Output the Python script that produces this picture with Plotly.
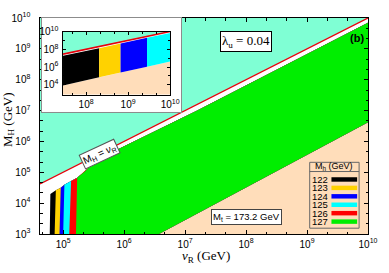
import numpy as np
import plotly.graph_objects as go

# ---------------- data (log10 values) ----------------
mh_values = [122, 123, 124, 125, 126, 127]
mh_colors = ["#000000", "#FFD200", "#0000FF", "#00FFFF", "#FF0000", "#00EE00"]
# left edge of each allowed M_h region: log10(vR) at M_H = 1e3 and at its top corner
band_lv_bottom = [4.78, 4.86, 4.94, 5.00, 5.10, 5.21]
band_lv_top = [4.79, 4.88, 4.96, 5.02, 5.13, 5.23]
# common upper edge of allowed region (log10 vR, log10 M_H)
upper_lv = [4.79, 4.88, 4.96, 5.02, 5.13, 5.23, 5.35, 5.50, 5.70, 7.20, 10.0]
upper_lM = [4.30, 4.42, 4.50, 4.60, 4.72, 4.82, 5.02, 5.30, 5.55, 7.00, 9.85]
# lower edge (excluded region below)
lower_lv = [6.57, 10.0]
lower_lM = [3.00, 6.62]
# inset: right-hand vR limits for M_h = 122..125
inset_mh = [122, 123, 124, 125]
inset_lv_edges = [7.0, 8.31, 8.82, 9.45, 10.0]

main_x = [4.62, 10.0]
main_y = [3.0, 10.0]
inset_x = [7.45, 10.0]
inset_y = [2.9, 10.0]

AQUA = "#7FFFD4"
PEACH = "#FFDDBA"

W, H = 389, 273
ML, MR, MT, MB = 40, 17, 11, 39
PW, PH = W - ML - MR, H - MT - MB


def px(xp):
    return (xp - ML) / PW


def py(yp):
    return (H - MB - yp) / PH


def upper_at(lv):
    return float(np.interp(lv, upper_lv, upper_lM))


def lower_at(lv):
    return float(np.interp(lv, lower_lv, lower_lM))


fig = go.Figure()


def add_region(xs, ys, color, xa="x", ya="y"):
    fig.add_trace(go.Scatter(
        x=[10 ** v for v in xs], y=[10 ** v for v in ys], fill="toself",
        fillcolor=color, line=dict(width=0, color=color), mode="lines",
        hoverinfo="skip", showlegend=False, xaxis=xa, yaxis=ya))


def add_scene(xr, yr, xa, ya, bands, lw):
    lo, hi = xr
    # aquamarine above M_H = vR
    add_region([lo, hi, lo], [lo, hi, yr[1] + 1], AQUA, xa, ya)
    # peach excluded region below lower edge
    add_region([lower_lv[0]] + lower_lv[1:] + [hi, lower_lv[0]],
               [lower_lM[0]] + lower_lM[1:] + [yr[0] - 1, yr[0] - 1], PEACH, xa, ya)
    for xs, ys, c in bands:
        add_region(xs, ys, c, xa, ya)
    # M_H = vR line
    fig.add_trace(go.Scatter(x=[10 ** lo, 10 ** hi], y=[10 ** lo, 10 ** hi], mode="lines",
                             line=dict(color="#E8000B", width=lw), hoverinfo="skip",
                             showlegend=False, xaxis=xa, yaxis=ya))


# main bands
main_bands = []
for lvb, lvt, c in zip(band_lv_bottom, band_lv_top, mh_colors):
    xs = [lvb, lvt] + [v for v in upper_lv if v > lvt]
    ys = [main_y[0], upper_at(lvt)] + [m for v, m in zip(upper_lv, upper_lM) if v > lvt]
    xs += lower_lv[::-1]
    ys += lower_lM[::-1]
    main_bands.append((xs, ys, c))
add_scene(main_x, main_y, "x", "y", main_bands, 1.3)

# box subplot (white frame of inset)
fig.add_trace(go.Scatter(x=[0], y=[0], mode="markers", marker=dict(opacity=0),
                         hoverinfo="skip", showlegend=False, xaxis="x2", yaxis="y2"))

# inset bands
inset_bands = []
for i, mh in enumerate(inset_mh):
    a, b = inset_lv_edges[i], inset_lv_edges[i + 1]
    grid = np.linspace(a, b, 12)
    xs = list(grid) + list(grid[::-1])
    ys = [upper_at(max(g, upper_lv[0])) for g in grid] + [lower_at(g) for g in grid[::-1]]
    inset_bands.append((xs, ys, mh_colors[i]))
add_scene(inset_x, inset_y, "x3", "y3", inset_bands, 1.6)

tickfont = dict(family="Liberation Sans, Arial", size=8, color="black")
common = dict(type="log", showgrid=False, zeroline=False, showline=True, linecolor="black",
              linewidth=1, mirror="allticks", ticks="inside", tickcolor="black",
              exponentformat="power", tickfont=tickfont, fixedrange=True)

fig.update_layout(
    width=W, height=H, margin=dict(l=ML, r=MR, t=MT, b=MB),
    paper_bgcolor="white", plot_bgcolor="white", showlegend=False,
    xaxis=dict(**common, range=main_x, dtick=1, ticklen=4,
               minor=dict(ticks="inside", ticklen=2.5, dtick=1 / 3, tickcolor="black"),
               domain=[0, 1], anchor="y", ticklabelstandoff=1),
    yaxis=dict(**common, range=main_y, dtick=1, ticklen=4,
               minor=dict(ticks="inside", ticklen=2.5, dtick=1 / 3, tickcolor="black"),
               domain=[0, 1], anchor="x", ticklabelstandoff=7),
    xaxis2=dict(domain=[px(41.7), px(182.7)], anchor="y2", range=[0, 1], showline=True,
                mirror=True, linecolor="#8c8c8c", linewidth=1, showgrid=False,
                zeroline=False, showticklabels=False, ticks="", fixedrange=True),
    yaxis2=dict(domain=[py(108), py(11)], anchor="x2", range=[0, 1], showline=True,
                mirror=True, linecolor="#8c8c8c", linewidth=1, showgrid=False,
                zeroline=False, showticklabels=False, ticks="", fixedrange=True),
    xaxis3=dict(**common, range=inset_x, dtick=1, ticklen=3,
                minor=dict(ticks="inside", ticklen=2, dtick=1 / 3, tickcolor="black"),
                domain=[px(63.3), px(171.7)], anchor="y3", ticklabelstandoff=1),
    yaxis3=dict(**common, range=inset_y, dtick=2, ticklen=3,
                minor=dict(ticks="inside", ticklen=2, dtick=1, tickcolor="black"),
                domain=[py(90), py(25)], anchor="x3", ticklabelstandoff=2),
)

serif = "Liberation Serif, Times New Roman"
sans = "Liberation Sans, Arial"
ann = []


def note(xp, yp, text, font, xanchor="center", **kw):
    ann.append(dict(x=px(xp), y=py(yp), xref="paper", yref="paper", showarrow=False,
                    xanchor=xanchor, yanchor="middle", text=text, font=font, **kw))


note(208, 257, "<i>ν</i><sub>R</sub> (GeV)", dict(family=serif, size=13, color="black"))
note(8, 116, "M<sub>H</sub> (GeV)", dict(family=serif, size=13, color="black"), textangle=-90)
note(249, 35.5, "λ<sub>u</sub> = 0.04", dict(family=serif, size=13, color="black"),
     bgcolor="white", bordercolor="black", borderwidth=1, borderpad=1)
note(370, 32, "<b>(b)</b>", dict(family=sans, size=11, color="black"), xanchor="right")
note(249, 216, "M<sub>t</sub> = 173.2 GeV", dict(family=sans, size=9.5, color="black"),
     bgcolor="white", bordercolor="#444", borderwidth=1, borderpad=1)
ann.append(dict(x=5.6, y=5.6, xref="x", yref="y", showarrow=False, textangle=-25,
                xanchor="center", yanchor="middle",
                text="M<sub>H</sub> = <i>ν</i><sub>R</sub>",
                font=dict(family=sans, size=10, color="black"),
                bgcolor="white", bordercolor="#555", borderwidth=1, borderpad=1))

# legend (built from mh_values / mh_colors)
shapes = [dict(type="rect", xref="paper", yref="paper", x0=px(313), x1=px(363),
               y0=py(228), y1=py(160), line=dict(color="#666", width=1),
               fillcolor="rgba(0,0,0,0)"),
          dict(type="line", xref="paper", yref="paper", x0=px(313), x1=px(363),
               y0=py(169.5), y1=py(169.5), line=dict(color="#666", width=1))]
note(338, 164.5, "M<sub>h</sub> (GeV)", dict(family=sans, size=9, color="black"))
for i, (mh, c) in enumerate(zip(mh_values, mh_colors)):
    yc = 177.7 + 8.7 * i
    note(314, yc, str(mh), dict(family=sans, size=9.5, color="black"), xanchor="left",
         borderpad=0)
    shapes.append(dict(type="rect", xref="paper", yref="paper", x0=px(335), x1=px(361),
                       y0=py(yc + 2.3), y1=py(yc - 2.3), line=dict(width=0), fillcolor=c))

fig.update_layout(annotations=ann, shapes=shapes)
fig.write_html("out.html", config={"displayModeBar": False},
               post_script="document.body.style.margin='0';document.body.style.padding='0';")
